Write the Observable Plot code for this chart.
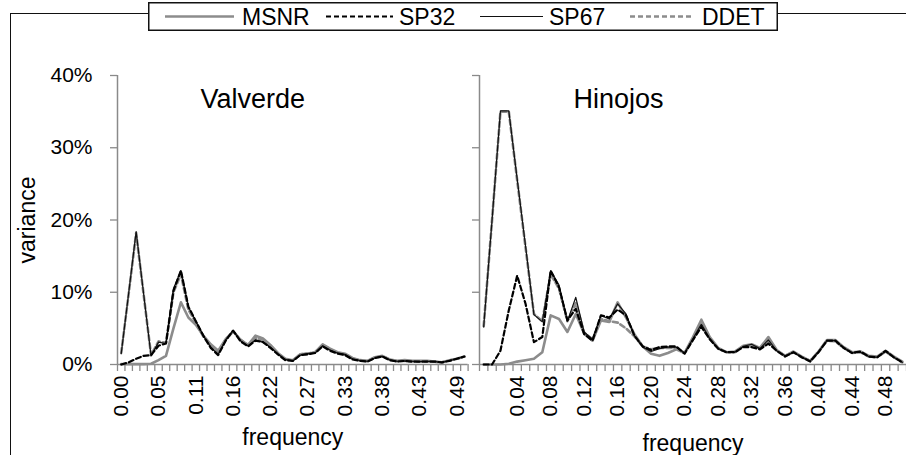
<!DOCTYPE html>
<html><head><meta charset="utf-8">
<script src="https://cdn.jsdelivr.net/npm/d3@7"></script>
<script src="https://cdn.jsdelivr.net/npm/@observablehq/plot@0.6"></script>
<style>
body{margin:0;background:#fff;}
#chart{position:relative;width:906px;height:455px;overflow:hidden;font-family:"Liberation Sans",Arial,sans-serif;background:#fff;}
#frame{position:absolute;left:10px;top:13px;width:1000px;height:1000px;border:1.5px solid #111;box-sizing:border-box;}
.panel{position:absolute;left:0;top:0;}
</style></head>
<body>
<div id="chart"><div id="frame"></div></div>
<script>
// ---- data ----
const seriesNames = ["MSNR", "SP32", "SP67", "DDET"];
const yTicks = [0, 10, 20, 30, 40];
// Valverde (47 frequencies, k/92)
const xLabelsL = ["0.00","0.05","0.11","0.16","0.22","0.27","0.33","0.38","0.43","0.49"];
const xLabelIdxL = [0,5,10,15,20,25,30,35,40,45];
const MSNR_L = [0.05,0.05,0.05,0.05,0.1,0.6,1.2,5.0,8.6,6.5,5.5,4.0,2.8,1.9,3.5,4.6,3.4,2.7,4.0,3.6,2.7,1.6,0.8,0.6,1.4,1.5,1.7,2.8,2.2,1.7,1.5,0.9,0.6,0.5,1.0,1.2,0.7,0.5,0.6,0.5,0.5,0.5,0.4,0.3,0.6,0.8,1.1];
const SP32_L = [0,0.3,0.8,1.2,1.3,2.6,2.9,10.2,13.0,8.0,6.0,4.0,2.3,1.3,3.3,4.7,3.2,2.5,3.3,3.1,2.3,1.4,0.6,0.5,1.3,1.4,1.6,2.5,1.9,1.5,1.3,0.7,0.5,0.4,0.9,1.1,0.6,0.4,0.5,0.4,0.4,0.4,0.4,0.3,0.5,0.8,1.1];
const SP67_L = [1.5,9.9,18.4,9.8,1.2,3.1,2.9,10.5,13.0,8.0,6.0,4.0,2.4,1.4,3.4,4.7,3.3,2.6,3.4,3.1,2.4,1.5,0.7,0.5,1.3,1.5,1.6,2.6,2.0,1.6,1.4,0.8,0.55,0.45,0.9,1.15,0.65,0.45,0.5,0.45,0.4,0.45,0.4,0.3,0.55,0.8,1.1];
const DDET_L = [1.6,9.8,18.2,9.7,1.3,3.2,3.0,10.0,12.5,7.6,5.8,3.9,2.5,1.6,3.4,4.6,3.4,2.7,3.7,3.3,2.5,1.5,0.7,0.55,1.4,1.5,1.7,2.7,2.1,1.6,1.4,0.8,0.55,0.45,0.95,1.15,0.65,0.45,0.5,0.45,0.4,0.45,0.4,0.3,0.55,0.8,1.1];
// Hinojos (51 frequencies, k/100)
const xLabelsR = ["0.04","0.08","0.12","0.16","0.20","0.24","0.28","0.32","0.36","0.40","0.44","0.48"];
const xLabelIdxR = [4,8,12,16,20,24,28,32,36,40,44,48];
const MSNR_R = [0,0,0,0.1,0.4,0.6,0.8,1.7,6.8,6.3,4.5,7.0,4.3,3.3,6.1,5.9,8.6,6.5,4.2,2.5,1.5,1.2,1.6,2.1,1.6,3.8,6.2,3.8,2.3,1.7,1.8,2.6,2.8,2.3,3.8,2.0,1.2,1.8,1.1,0.5,1.8,3.4,3.4,2.4,1.7,1.8,1.2,1.1,1.9,1.1,0.4];
const SP32_R = [0,0,1.9,7.5,12.3,8.4,3.1,3.8,13.0,10.7,6.1,7.7,4.2,3.3,6.8,6.5,7.6,6.8,4.0,2.5,2.0,2.4,2.5,2.5,1.5,3.4,5.2,3.5,2.2,1.7,1.7,2.4,2.4,2.1,2.9,1.9,1.1,1.7,1.0,0.4,1.7,3.3,3.3,2.3,1.6,1.8,1.1,1.0,1.9,1.0,0.3];
const SP67_R = [5.2,20.0,35.1,35.1,25.7,16.4,6.9,5.9,13.0,11.0,6.0,9.3,4.5,3.5,6.8,6.3,8.4,7.0,4.0,2.4,1.8,2.2,2.4,2.4,1.6,3.6,5.6,3.6,2.2,1.7,1.7,2.5,2.8,2.2,3.4,1.9,1.2,1.7,1.0,0.5,1.8,3.3,3.3,2.3,1.6,1.7,1.1,1.0,1.8,1.0,0.3];
const DDET_R = [5.3,20.0,35.0,35.0,25.5,16.2,7.0,6.0,12.5,10.5,6.0,8.5,4.4,3.5,6.3,6.0,5.8,5.0,3.9,2.5,2.1,2.3,2.3,2.3,1.6,3.5,5.4,3.6,2.2,1.7,1.7,2.5,2.7,2.2,3.2,1.9,1.2,1.7,1.0,0.5,1.8,3.3,3.2,2.3,1.6,1.7,1.1,1.0,1.8,1.0,0.3];

// ---- styles ----
const FONT = "'Liberation Sans', Arial, sans-serif";
const AX = "#8a8a8a";
const styleOf = {
  MSNR: {stroke: "#8c8c8c", strokeWidth: 2.6},
  DDET: {stroke: "#8c8c8c", strokeWidth: 2.6, strokeDasharray: "5,3"},
  SP67: {stroke: "#111", strokeWidth: 1.2},
  SP32: {stroke: "#000", strokeWidth: 2.2, strokeDasharray: "5,3"}
};
const drawOrder = ["MSNR", "DDET", "SP67", "SP32"];

function panel(values, xLabels, xLabelIdx, title, opts) {
  const n = values.MSNR.length;
  const rows = s => values[s].map((v, i) => ({i, v}));
  const bounds = d3.range(n + 1).map(k => k - 0.5);
  const labelMap = new Map(xLabelIdx.map((k, j) => [k, xLabels[j]]));
  const marks = [
    Plot.ruleX([-0.5], {y1: 0, y2: 40, stroke: AX, strokeWidth: 1.5}),
    Plot.axisY({ticks: yTicks, tickSize: 7, tickPadding: 18, fontSize: 21, stroke: AX, strokeWidth: 1.3, fill: "#000",
      tickFormat: opts.yLabels ? (d => d + "%") : (() => "")}),
    Plot.ruleY([0], {x1: -0.5, x2: n - 0.5, stroke: AX, strokeWidth: 1.5}),
    Plot.axisX({ticks: bounds, tickSize: 7, tickFormat: () => "", stroke: AX, strokeWidth: 1.3}),
    Plot.axisX({ticks: xLabelIdx, tickSize: 0, tickPadding: 11, tickRotate: -90, fontSize: 21, fill: "#000",
      tickFormat: d => labelMap.get(d)}),
    ...drawOrder.map(s => Plot.line(rows(s), {x: "i", y: "v", ...styleOf[s], strokeLinejoin: "round"})),
    Plot.text([title], {text: d => d, frameAnchor: "top-left", dx: opts.titleDx, dy: 23.5, textAnchor: "start",
      lineAnchor: "middle", fontSize: 27, fill: "#000"}),
    Plot.text(["frequency"], {text: d => d, frameAnchor: "bottom", dy: opts.freqDy, textAnchor: "middle",
      lineAnchor: "middle", fontSize: 23, fill: "#000"})
  ];
  if (opts.yTitle) marks.push(Plot.text(["variance"], {text: d => d, frameAnchor: "left", dx: -90, rotate: -90,
      textAnchor: "middle", lineAnchor: "middle", fontSize: 23, fill: "#000"}));
  return Plot.plot({
    width: 906, height: 455,
    marginLeft: opts.left, marginRight: 906 - opts.right, marginTop: 75, marginBottom: 91,
    x: {domain: [-0.5, n - 0.5], label: null, axis: null},
    y: {domain: [0, 40], label: null, axis: null},
    style: {background: "transparent", overflow: "visible", fontFamily: FONT},
    marks
  });
}

const chart = document.getElementById("chart");
const L = panel({MSNR: MSNR_L, SP32: SP32_L, SP67: SP67_L, DDET: DDET_L}, xLabelsL, xLabelIdxL, "Valverde",
  {left: 117, right: 467.6, yLabels: true, yTitle: true, titleDx: 83, freqDy: 73});
const R = panel({MSNR: MSNR_R, SP32: SP32_R, SP67: SP67_R, DDET: DDET_R}, xLabelsR, xLabelIdxR, "Hinojos",
  {left: 479, right: 906, yLabels: false, yTitle: false, titleDx: 94, freqDy: 79});
L.classList.add("panel"); R.classList.add("panel");
chart.appendChild(L); chart.appendChild(R);

// ---- legend ----
const leg = d3.select(chart).append("svg").attr("width", 630).attr("height", 29)
  .style("position", "absolute").style("left", "148px").style("top", "2px");
leg.append("rect").attr("x", 0.75).attr("y", 0.75).attr("width", 628.5).attr("height", 27.5)
  .attr("fill", "#fff").attr("stroke", "#111").attr("stroke-width", 1.5);
const legPos = [{x0: 17, x1: 86, tx: 94}, {x0: 178, x1: 245, tx: 251}, {x0: 332, x1: 395, tx: 401}, {x0: 482, x1: 546, tx: 554}];
seriesNames.forEach((s, k) => {
  const st = styleOf[s], p = legPos[k];
  leg.append("line").attr("x1", p.x0).attr("x2", p.x1).attr("y1", 14.5).attr("y2", 14.5)
    .attr("stroke", st.stroke).attr("stroke-width", st.strokeWidth).attr("stroke-dasharray", st.strokeDasharray || null);
  leg.append("text").attr("x", p.tx).attr("y", 14.5).attr("dy", "0.35em").attr("font-size", 23)
    .attr("font-family", FONT).text(s);
});
</script>
</body></html>
